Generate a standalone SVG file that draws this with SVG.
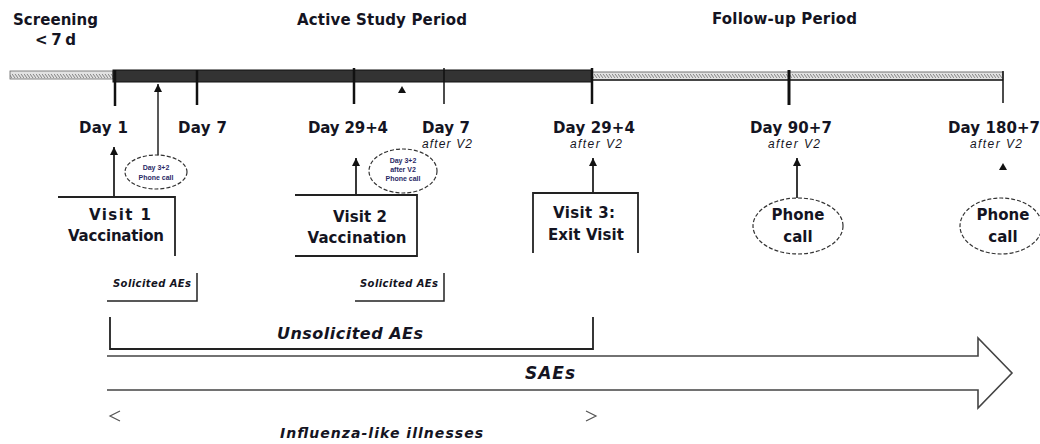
<svg xmlns="http://www.w3.org/2000/svg" width="1040" height="444" viewBox="0 0 1040 444">
<style>
.t{font-family:"DejaVu Sans","Liberation Sans",Arial,sans-serif;fill:#141422}
.h{font-size:15px;font-weight:bold}
.d{font-size:15px;font-weight:bold}
.s{font-family:"Liberation Sans",Arial,sans-serif;font-size:12px;font-style:italic}
.tiny{font-family:"Liberation Sans",Arial,sans-serif;font-size:7px;font-weight:bold;fill:#2a2a66}
.ln{stroke:#222;fill:none}
.el{fill:#fff;stroke:#333;stroke-width:1.2;stroke-dasharray:4 2}
</style>
<defs>
<pattern id="hatch" width="6" height="8" patternUnits="userSpaceOnUse">
<rect width="6" height="8" fill="#e2e2e2"/>
<path d="M0,2 L3,6 M3,2 L6,6" stroke="#777" stroke-width="0.9"/>
</pattern>
<marker id="ah" markerWidth="8" markerHeight="8" refX="8" refY="4" orient="auto" markerUnits="userSpaceOnUse" viewBox="0 0 8 8">
<path d="M0,0 L8,4 L0,8 Z" fill="#111"/>
</marker>
</defs>

<g id="headers">
<text class="t h" x="13" y="25" textLength="85" lengthAdjust="spacing">Screening</text>
<text class="t h" x="35" y="45" textLength="41" lengthAdjust="spacing">&lt; 7 d</text>
<text class="t h" x="297" y="25" textLength="170" lengthAdjust="spacing">Active  Study  Period</text>
<text class="t h" x="712" y="24" textLength="145" lengthAdjust="spacing">Follow-up  Period</text>
</g>

<g id="timeline">
<rect x="10" y="71" width="103" height="8" fill="url(#hatch)" stroke="#666" stroke-width="0.8"/>
<rect x="113" y="70" width="479" height="12" fill="#333" stroke="#111" stroke-width="1"/>
<rect x="592" y="72" width="411" height="8" fill="url(#hatch)" stroke="#555" stroke-width="0.8"/>
<line class="ln" x1="592" y1="80" x2="1003" y2="80" stroke-width="1.5"/>
<g stroke="#111">
<line x1="115" y1="70" x2="115" y2="106" stroke-width="2.5"/>
<line x1="197" y1="70" x2="197" y2="105" stroke-width="2.5"/>
<line x1="354" y1="68" x2="354" y2="104" stroke-width="2.5"/>
<line x1="444" y1="68" x2="444" y2="104" stroke-width="1.5"/>
<line x1="592" y1="68" x2="592" y2="104" stroke-width="2.5"/>
<line x1="789" y1="70" x2="789" y2="105" stroke-width="3"/>
<line x1="1003" y1="71" x2="1003" y2="103" stroke-width="1.5"/>
</g>
<path d="M398,93 L402,86 L406,93 Z" fill="#111"/>
</g>

<g id="day-labels">
<text class="t d" x="79" y="133" textLength="49" lengthAdjust="spacing">Day 1</text>
<text class="t d" x="178" y="133" textLength="49" lengthAdjust="spacing">Day 7</text>
<text class="t d" x="308" y="133" textLength="80" lengthAdjust="spacing">Day 29+4</text>
<text class="t d" x="422" y="133" textLength="48" lengthAdjust="spacing">Day 7</text>
<text class="t s" x="422" y="148" textLength="50" lengthAdjust="spacing">after V2</text>
<text class="t d" x="553" y="133" textLength="82" lengthAdjust="spacing">Day 29+4</text>
<text class="t s" x="570" y="148" textLength="52" lengthAdjust="spacing">after V2</text>
<text class="t d" x="750" y="133" textLength="82" lengthAdjust="spacing">Day 90+7</text>
<text class="t s" x="768" y="148" textLength="52" lengthAdjust="spacing">after V2</text>
<text class="t d" x="948" y="133" textLength="92" lengthAdjust="spacing">Day 180+7</text>
<text class="t s" x="970" y="148" textLength="52" lengthAdjust="spacing">after V2</text>
</g>

<g id="connectors">
<line class="ln" x1="114" y1="197" x2="114" y2="147" stroke-width="1.8" marker-end="url(#ah)"/>
<line class="ln" x1="158" y1="155" x2="158" y2="84" stroke-width="1.5" marker-end="url(#ah)"/>
<line class="ln" x1="356" y1="195" x2="356" y2="158" stroke-width="1.8" marker-end="url(#ah)"/>
<line class="ln" x1="593" y1="193" x2="593" y2="158" stroke-width="1.8" marker-end="url(#ah)"/>
<line class="ln" x1="797" y1="198" x2="797" y2="158" stroke-width="1.8" marker-end="url(#ah)"/>
<path d="M999,170 L1003,163 L1007,170 Z" fill="#111"/>
</g>

<g id="visit1">
<path class="ln" d="M58,197 H175 V256" stroke-width="1.8"/>
<text class="t h" x="120" y="220" text-anchor="middle" textLength="62" lengthAdjust="spacing">Visit  1</text>
<text class="t h" x="116" y="241" text-anchor="middle" textLength="96" lengthAdjust="spacing">Vaccination</text>
</g>

<g id="phone-call-d3">
<ellipse class="el" cx="156" cy="172" rx="31" ry="17"/>
<text class="t tiny" x="156" y="170" text-anchor="middle">Day 3+2</text>
<text class="t tiny" x="156" y="180" text-anchor="middle">Phone call</text>
</g>

<g id="solicited1">
<path class="ln" d="M107,301 H197 V273" stroke-width="1.5"/>
<text class="t" x="113" y="287" font-family="Liberation Sans, Arial, sans-serif" font-size="10" font-style="italic" font-weight="bold" textLength="78" lengthAdjust="spacing">Solicited AEs</text>
</g>

<g id="visit2">
<path class="ln" d="M295,195 H417 V256 H295" stroke-width="1.8"/>
<text class="t h" x="360" y="222" text-anchor="middle" textLength="54" lengthAdjust="spacing">Visit  2</text>
<text class="t h" x="357" y="243" text-anchor="middle" textLength="99" lengthAdjust="spacing">Vaccination</text>
</g>

<g id="phone-call-d3-v2">
<ellipse class="el" cx="403" cy="171" rx="34" ry="22"/>
<text class="t tiny" x="403" y="163" text-anchor="middle">Day 3+2</text>
<text class="t tiny" x="403" y="172" text-anchor="middle">after V2</text>
<text class="t tiny" x="403" y="181" text-anchor="middle">Phone call</text>
</g>

<g id="solicited2">
<path class="ln" d="M355,301 H444 V273" stroke-width="1.5"/>
<text class="t" x="360" y="287" font-family="Liberation Sans, Arial, sans-serif" font-size="10" font-style="italic" font-weight="bold" textLength="78" lengthAdjust="spacing">Solicited AEs</text>
</g>

<g id="visit3">
<path class="ln" d="M533,253 V193 H638 V253" stroke-width="1.8"/>
<text class="t h" x="584" y="218" text-anchor="middle" textLength="62" lengthAdjust="spacing">Visit  3:</text>
<text class="t h" x="586" y="240" text-anchor="middle" textLength="76" lengthAdjust="spacing">Exit Visit</text>
</g>

<g id="phone-call-90">
<ellipse class="el" cx="798" cy="226" rx="45" ry="28"/>
<text class="t h" x="798" y="220" text-anchor="middle">Phone</text>
<text class="t h" x="798" y="242" text-anchor="middle">call</text>
</g>

<g id="phone-call-180">
<ellipse class="el" cx="1001" cy="226" rx="41" ry="28"/>
<text class="t h" x="1003" y="220" text-anchor="middle">Phone</text>
<text class="t h" x="1003" y="242" text-anchor="middle">call</text>
</g>

<g id="unsolicited">
<path class="ln" d="M110,317 V349 H593 V317" stroke-width="1.8"/>
<text class="t" x="277" y="339" font-size="16" font-style="italic" font-weight="bold" textLength="146" lengthAdjust="spacing">Unsolicited  AEs</text>
</g>

<g id="saes">
<path d="M107,356 H978 V338 L1012,373 L978,408 V390 H107" fill="none" stroke="#444" stroke-width="1.6"/>
<text class="t" x="525" y="379" font-size="17" font-style="italic" font-weight="bold" textLength="50" lengthAdjust="spacing">SAEs</text>
</g>

<g id="ili">
<path d="M120,411 L110,416 L120,421" fill="none" stroke="#555" stroke-width="1.2"/>
<path d="M586,411 L596,416 L586,421" fill="none" stroke="#555" stroke-width="1.2"/>
<text class="t" x="280" y="438" font-size="14" font-style="italic" font-weight="bold" textLength="203" lengthAdjust="spacing">Influenza-like  illnesses</text>
</g>
</svg>
